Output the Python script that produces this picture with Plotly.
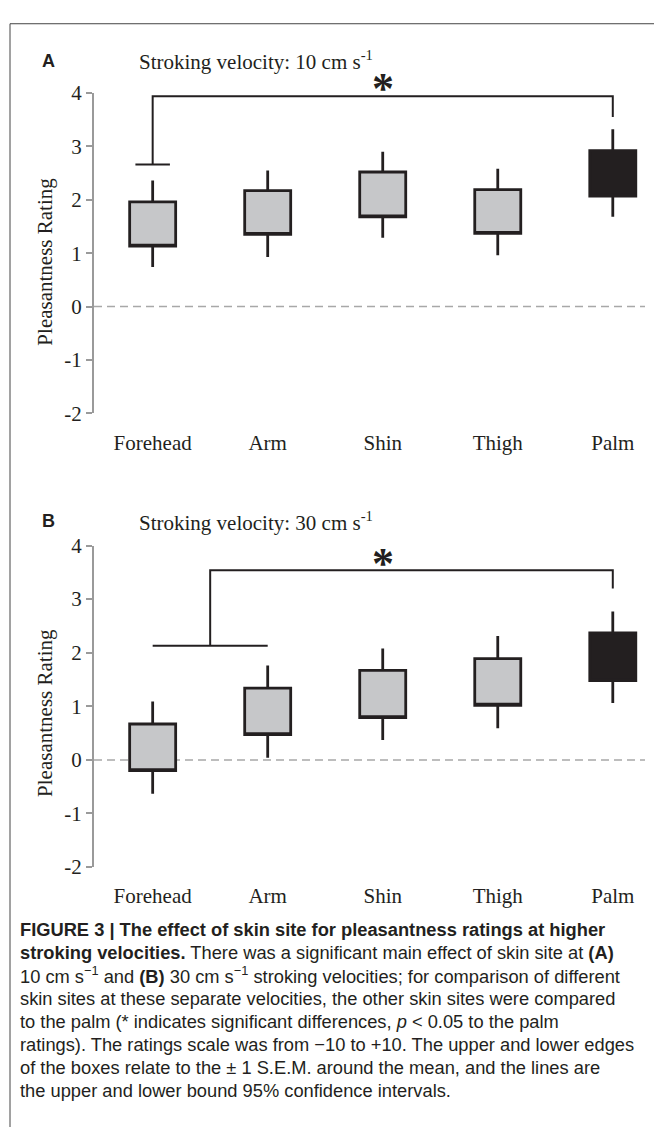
import plotly.graph_objects as go

W, H = 654, 1139

sites = ["Forehead", "Arm", "Shin", "Thigh", "Palm"]
y_ticks = [-2, -1, 0, 1, 2, 3, 4]
y_tick_text = ["-2", "-1", "0", "1", "2", "3", "4"]
y_range = [-2, 4]

# Panel A: 10 cm/s  (box = mean +/- 1 SEM, whiskers = 95% CI)
a_box_low = [1.13, 1.35, 1.68, 1.37, 2.07]
a_box_high = [1.96, 2.17, 2.52, 2.19, 2.92]
a_ci_low = [0.74, 0.93, 1.29, 0.96, 1.68]
a_ci_high = [2.36, 2.55, 2.90, 2.58, 3.32]

# Panel B: 30 cm/s
b_box_low = [-0.20, 0.47, 0.79, 1.02, 1.48]
b_box_high = [0.67, 1.34, 1.67, 1.89, 2.37]
b_ci_low = [-0.63, 0.04, 0.37, 0.59, 1.06]
b_ci_high = [1.09, 1.76, 2.08, 2.31, 2.77]

# significance brackets (rating-scale levels)
a_sig_top = 3.94
a_sig_left_end = 2.66
a_sig_right_end = 3.55
a_star_y = 4.21
b_sig_top = 3.54
b_sig_group = 2.13
b_sig_right_end = 3.20
b_star_y = 3.80

BOX_FILL = "#c6c7c9"
PALM_FILL = "#231f20"
INK = "#231f20"
AXIS_GRAY = "#9a9a9a"
SERIF = "Liberation Serif, Times New Roman, serif"

fig = go.Figure()


def add_panel(fig, xa, ya, lo, hi, clo, chi):
    idx = list(range(len(sites)))
    for sel, fill in ((idx[:-1], BOX_FILL), (idx[-1:], PALM_FILL)):
        fig.add_trace(go.Box(
            x=sel,
            q1=[lo[i] for i in sel],
            median=[lo[i] for i in sel],
            q3=[hi[i] for i in sel],
            lowerfence=[clo[i] for i in sel],
            upperfence=[chi[i] for i in sel],
            width=0.4,
            whiskerwidth=0,
            fillcolor=fill,
            line=dict(color=INK, width=2.8),
            boxpoints=False,
            hoverinfo="skip",
            showlegend=False,
            xaxis=xa, yaxis=ya,
        ))


add_panel(fig, "x", "y", a_box_low, a_box_high, a_ci_low, a_ci_high)
add_panel(fig, "x2", "y2", b_box_low, b_box_high, b_ci_low, b_ci_high)

line_style = dict(color=INK, width=2)
# Panel A bracket: Forehead vs Palm
fig.add_trace(go.Scatter(
    x=[0, 0, 4, 4], y=[a_sig_left_end, a_sig_top, a_sig_top, a_sig_right_end],
    mode="lines", line=line_style, hoverinfo="skip", showlegend=False,
    xaxis="x", yaxis="y"))
fig.add_trace(go.Scatter(
    x=[-0.15, 0.15], y=[a_sig_left_end, a_sig_left_end],
    mode="lines", line=line_style, hoverinfo="skip", showlegend=False,
    xaxis="x", yaxis="y"))
# Panel B bracket: Forehead & Arm vs Palm
fig.add_trace(go.Scatter(
    x=[0, 1], y=[b_sig_group, b_sig_group],
    mode="lines", line=line_style, hoverinfo="skip", showlegend=False,
    xaxis="x2", yaxis="y2"))
fig.add_trace(go.Scatter(
    x=[0.5, 0.5, 4, 4], y=[b_sig_group, b_sig_top, b_sig_top, b_sig_right_end],
    mode="lines", line=line_style, hoverinfo="skip", showlegend=False,
    xaxis="x2", yaxis="y2"))


def px_y(p):
    return 1 - p / H


def px_x(p):
    return p / W


def dom_frac(v):
    return (v - y_range[0]) / (y_range[1] - y_range[0])


x_dom = [px_x(94), px_x(645)]
a_dom = [px_y(410), px_y(82.7)]
b_dom = [px_y(873.5), px_y(545)]

xaxis_common = dict(
    range=[-0.51, 4.28], showgrid=False, zeroline=False, showline=False,
    tickmode="array", tickvals=list(range(len(sites))), ticktext=sites,
    ticks="outside", ticklen=10, tickcolor="rgba(0,0,0,0)",
    tickfont=dict(family=SERIF, size=21, color=INK), fixedrange=True,
)
yaxis_common = dict(
    range=y_range, showgrid=False, zeroline=False, showline=True,
    linecolor=AXIS_GRAY, linewidth=2, ticks="outside", ticklen=6,
    tickwidth=2, tickcolor=AXIS_GRAY, tickmode="array", tickvals=y_ticks,
    ticktext=y_tick_text, tickfont=dict(family=SERIF, size=21, color=INK),
    fixedrange=True,
)

fig.update_layout(
    width=W, height=H,
    margin=dict(l=0, r=0, t=0, b=0),
    paper_bgcolor="white", plot_bgcolor="white",
    xaxis=dict(domain=x_dom, anchor="y", **xaxis_common),
    yaxis=dict(domain=a_dom, anchor="x", **yaxis_common),
    xaxis2=dict(domain=x_dom, anchor="y2", **xaxis_common),
    yaxis2=dict(domain=b_dom, anchor="x2", **yaxis_common),
    showlegend=False,
)

shapes = []
for xd, ya in (("x domain", "y"), ("x2 domain", "y2")):
    shapes.append(dict(type="line", xref=xd, x0=0, x1=1, yref=ya, y0=0, y1=0,
                       line=dict(color="#a8a8a8", width=1.5, dash="8px,5px"), layer="below"))
# figure frame (top and left rules)
shapes.append(dict(type="line", xref="paper", yref="paper", x0=px_x(10), x1=1,
                   y0=px_y(12), y1=px_y(12), line=dict(color="#444", width=1)))
shapes.append(dict(type="line", xref="paper", yref="paper", x0=px_x(10), x1=px_x(10),
                   y0=px_y(12), y1=0, line=dict(color="#444", width=1)))
fig.update_layout(shapes=shapes)

ann = []
# panel letters & titles
for letter, title, yc in (("A", "Stroking velocity: 10 cm s<sup>-1</sup>", 50),
                          ("B", "Stroking velocity: 30 cm s<sup>-1</sup>", 520)):
    ann.append(dict(text=letter, xref="paper", yref="paper", x=px_x(48), y=px_y(yc),
                    xanchor="center", yanchor="middle", showarrow=False,
                    font=dict(family="Liberation Sans, Arial, sans-serif", size=18, color=INK, weight="bold")))
    ann.append(dict(text=title, xref="paper", yref="paper", x=px_x(137), y=px_y(yc),
                    xanchor="left", yanchor="middle", showarrow=False,
                    font=dict(family=SERIF, size=21, color=INK)))
# y axis titles
for yc in (255, 716):
    ann.append(dict(text="Pleasantness Rating", xref="paper", yref="paper", x=px_x(45), y=px_y(yc),
                    xanchor="center", yanchor="middle", textangle=-90, showarrow=False,
                    font=dict(family=SERIF, size=21, color=INK)))
# asterisks (placed in axis-domain units so they may sit above the range)
ann.append(dict(text="*", xref="x", yref="y domain", x=2, y=dom_frac(a_star_y),
                xanchor="center", yanchor="middle", yshift=-7,
                showarrow=False, font=dict(family=SERIF, size=44, color=INK, weight="bold")))
ann.append(dict(text="*", xref="x2", yref="y2 domain", x=2, y=dom_frac(b_star_y),
                xanchor="center", yanchor="middle", yshift=-7,
                showarrow=False, font=dict(family=SERIF, size=44, color=INK, weight="bold")))

caption_lines = [
    "<b>FIGURE 3 | The effect of skin site for pleasantness ratings at higher</b>",
    "<b>stroking velocities.</b> There was a significant main effect of skin site at <b>(A)</b>",
    "10 cm s<sup>\u22121</sup> and <b>(B)</b> 30 cm s<sup>\u22121</sup> stroking velocities; for comparison of different",
    "skin sites at these separate velocities, the other skin sites were compared",
    "to the palm (* indicates significant differences, <i>p</i> &lt; 0.05 to the palm",
    "ratings). The ratings scale was from \u221210 to +10. The upper and lower edges",
    "of the boxes relate to the \u00b1 1 S.E.M. around the mean, and the lines are",
    "the upper and lower bound 95% confidence intervals.",
]
for i, line in enumerate(caption_lines):
    ann.append(dict(text=line, xref="paper", yref="paper", x=px_x(18), y=px_y(937 + i * 23.6),
                    xanchor="left", yanchor="middle", showarrow=False,
                    font=dict(family="Liberation Sans, Arial, sans-serif", size=18.3, color=INK)))
fig.update_layout(annotations=ann)

post = ("var gd=document.getElementById('{plot_id}');"
        "document.documentElement.style.margin='0';document.body.style.margin='0';"
        "document.body.style.padding='0';document.documentElement.style.overflow='hidden';"
        "gd.style.position='absolute';gd.style.left='0px';gd.style.top='0px';")

fig.write_html("out.html", config={"displayModeBar": False}, post_script=post)
